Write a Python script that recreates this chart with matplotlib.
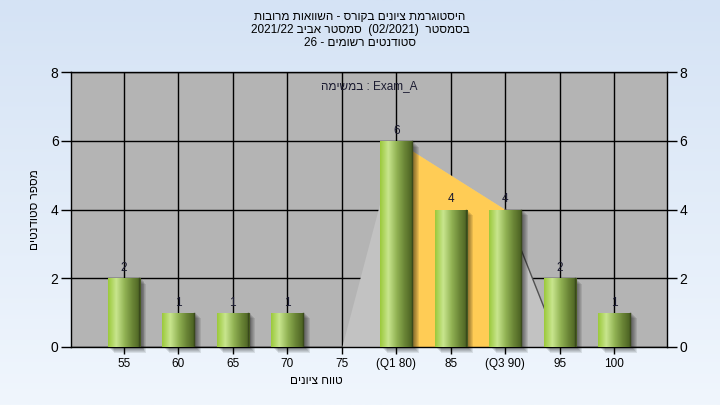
import numpy as np
import matplotlib
matplotlib.use('Agg')
import matplotlib.pyplot as plt
from matplotlib.colors import LinearSegmentedColormap

plt.rcParams['font.family'] = ['Liberation Sans', 'DejaVu Sans']

# נתונים
grades = ['55', '60', '65', '70', '75', '(Q1 80)', '85', '(Q3 90)', '95', '100']
counts = [2, 1, 1, 1, 0, 6, 4, 4, 2, 1]
# עקומת רקע: 75 -> Q1 -> Q3 -> 95
curve_idx = [4, 5, 7, 8]
curve_vals = [0, 6, 4, 0]
q1_idx, q3_idx = 5, 7

title_lines = ['היסטוגרמת ציונים בקורס - השוואות מרובות',
               'בסמסטר  (02/2021)  סמסטר אביב 2021/22',
               'סטודנטים רשומים - 26']
exam_heb = 'במשימה'
exam_name = 'Exam_A'
xlabel = 'טווח ציונים'
ylabel = 'מספר סטודנטים'


def is_heb(tok):
    return any('\u0590' <= c <= '\u05ff' for c in tok)


def rtl(s):
    # סדר תצוגה פשוט עבור פסקה מימין לשמאל
    toks = s.split(' ')[::-1]
    return ' '.join(t[::-1] if is_heb(t) else t for t in toks)


fig = plt.figure(figsize=(7.2, 4.05), dpi=100)

# רקע מדורג
bg = fig.add_axes([0, 0, 1, 1], zorder=-10)
grad = np.linspace(0, 1, 256).reshape(-1, 1)
bg_cmap = LinearSegmentedColormap.from_list('bg', ['#d5e3f5', '#f0f6fd'])
bg.imshow(grad, aspect='auto', cmap=bg_cmap, extent=[0, 1, 0, 1])
bg.axis('off')

ax = fig.add_axes([71 / 720, 58 / 405, 596 / 720, 275 / 405])
ax.set_facecolor('#b4b4b4')
x = np.arange(len(grades))

# אזור אפור בהיר ואזור רבעונים
cx = [x[i] for i in curve_idx]
ax.fill_between(cx, curve_vals, color='#c2c2c2', zorder=1, lw=0)
qx = [x[i] for i in curve_idx if q1_idx <= i <= q3_idx]
qy = [v for i, v in zip(curve_idx, curve_vals) if q1_idx <= i <= q3_idx]
ax.fill_between(qx, qy, color='#ffcc55', zorder=1.2, lw=0)
ax.plot(cx[-2:], curve_vals[-2:], color='#505050', lw=1, zorder=1.3)

ax.grid(True, color='black', lw=1, zorder=1.5)
ax.set_axisbelow(True)

w = 0.59
# צללים
for k in range(6):
    off = 0.03 + k * 0.018
    ax.bar(x + off, counts, width=w, bottom=-0.02 - k * 0.03, color='black',
           alpha=0.09, zorder=2, lw=0, clip_on=False)

bar_cmap = LinearSegmentedColormap.from_list(
    'bar', ['#9bc93a', '#c8e58e', '#93b455', '#6a8536', '#485e20'])
gimg = np.linspace(0, 1, 128).reshape(1, -1)
bars = ax.bar(x, counts, width=w, color='none', lw=0, zorder=3)
for b, v in zip(bars, counts):
    if v == 0:
        continue
    im = ax.imshow(gimg, cmap=bar_cmap, aspect='auto', zorder=3,
                   extent=[b.get_x(), b.get_x() + b.get_width(), 0, v])
    im.set_clip_path(b)
    ax.plot([b.get_x() + b.get_width() - 0.01] * 2, [0, v], color='#3a4a1c',
            lw=1, zorder=3.5)
    ax.text(b.get_x() + b.get_width() / 2, v + 0.12, str(v), ha='center',
            va='bottom', fontsize=8.5, color='#1a1a30', zorder=4)
ax.set_xlim(-0.97, len(grades) - 0.03)
ax.set_ylim(0, 8)

ax.set_xticks(x)
ax.set_xticklabels(grades, fontsize=8.5)
ax.set_yticks([0, 2, 4, 6, 8])
ax.tick_params(axis='y', labelsize=10, length=7, width=1, right=True,
               labelright=True, pad=2)
ax.tick_params(axis='x', length=5, width=1, pad=3)
for s in ax.spines.values():
    s.set_color('black')
    s.set_linewidth(1)

ax.text(0.5, 0.949, rtl(exam_heb) + ' : ' + exam_name, transform=ax.transAxes,
        ha='center', va='center', fontsize=8.5, color='#1a1a30', zorder=5)

fig.text(0.5, 1 - 17 / 405, rtl(title_lines[0]), ha='center', va='center', fontsize=8.5)
fig.text(0.5, 1 - 30 / 405, rtl(title_lines[1]), ha='center', va='center', fontsize=8.5)
fig.text(0.5, 1 - 43 / 405, rtl(title_lines[2]), ha='center', va='center', fontsize=8.5)
fig.text(316 / 720, 1 - 381 / 405, rtl(xlabel), ha='center', va='center', fontsize=8.5)
fig.text(35 / 720, 1 - 210 / 405, rtl(ylabel), ha='center', va='center',
         fontsize=8.5, rotation=90)

fig.savefig('out.png', dpi=100)
